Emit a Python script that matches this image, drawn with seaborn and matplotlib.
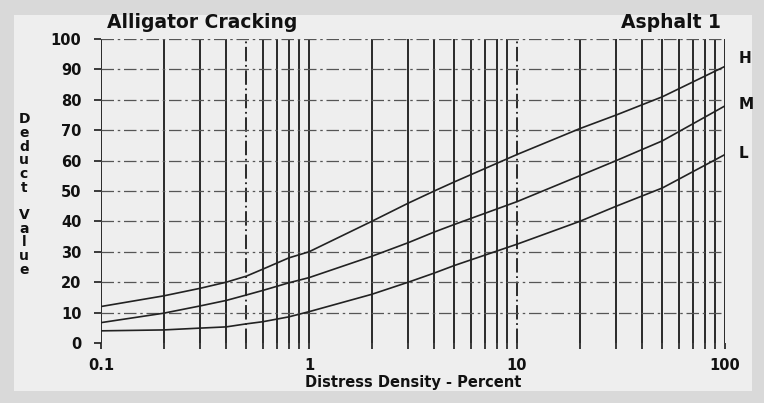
import numpy as np
import pandas as pd
import seaborn as sns
from matplotlib import pyplot as plt
from matplotlib.patches import Rectangle

# distress density (percent) where the curves were read
density = [0.1, 0.2, 0.3, 0.4, 0.5, 0.6, 0.8, 1, 2, 3, 4, 5, 10, 20, 30, 50, 100]
# deduct values for each severity
dv_high = [12, 15.5, 18, 20, 22, 24.3, 28, 30, 40, 46, 50, 53, 62, 70.5, 75, 81, 91]
dv_med = [6.7, 9.8, 12.2, 14, 15.8, 17.3, 19.8, 21.5, 28.5, 33, 36.5, 39, 46.5, 55, 60, 66.5, 78]
dv_low = [4, 4.3, 4.9, 5.3, 6.3, 7, 8.6, 10.3, 16, 20, 23, 25.5, 32.5, 40, 45, 51, 62]
severities = ["H", "M", "L"]
y_ticks = [0, 10, 20, 30, 40, 50, 60, 70, 80, 90, 100]
x_ticks = [0.1, 1, 10, 100]
x_ticklabels = ["0.1", "1", "10", "100"]

df = pd.DataFrame({
    "density": density * 3,
    "value": dv_high + dv_med + dv_low,
    "severity": np.repeat(severities, len(density)),
})

sns.set_style("white")
plt.rcParams["font.family"] = ["DejaVu Sans"]
plt.rcParams["font.weight"] = "bold"
ink = "#111111"

fig = plt.figure(figsize=(7.64, 4.03), dpi=100, facecolor="#d9d9d9")
# paper sheet
fig.patches.append(Rectangle((14 / 764, 12 / 403), 738 / 764, 376 / 403,
                             transform=fig.transFigure, facecolor="#eeeeee",
                             edgecolor="none", zorder=-10))
ax = fig.add_axes([101 / 764, 1 - 343 / 403, 624 / 764, 304 / 403])
ax.set_facecolor("#eeeeee")

ax.set_xscale("log")
ax.set_xlim(0.1, 100)
ax.set_ylim(0, 100)

# vertical log grid
minor_x = []
for dec in [0.1, 1, 10]:
    for k in range(1, 10):
        x = dec * k
        if k > 1:
            minor_x.append(x)
        dashed = (k == 5 and dec == 0.1) or (k == 1 and dec == 10)
        ls = (0, (8, 2, 1, 2)) if dashed else "-"
        ax.axvline(x, color="#1a1a1a", lw=1.3, ls=ls, zorder=1)
ax.axvline(100, color="#1a1a1a", lw=1.3, zorder=1)
# horizontal grid
for y in y_ticks[1:]:
    ax.axhline(y, color="#555555", lw=0.9, ls=(0, (10, 3, 2, 3)), zorder=1)

sns.lineplot(data=df, x="density", y="value", hue="severity",
             palette=["#222222"] * 3, legend=False, lw=1.2, ax=ax, zorder=3)

for s in ax.spines.values():
    s.set_visible(False)

ax.set_yticks(y_ticks)
ax.set_xticks(x_ticks)
ax.set_xticklabels(x_ticklabels)
ax.set_xticks(minor_x, minor=True)
ax.set_xticklabels([], minor=True)
ax.tick_params(axis="both", which="both", length=4, width=1.2, color="#1a1a1a",
               labelsize=10.5, labelcolor=ink, pad=3, bottom=True, left=True)
ax.tick_params(axis="y", which="minor", left=False)
ax.tick_params(axis="y", which="major", length=5, pad=9)
ax.tick_params(axis="x", which="major", pad=7)
ax.set_xlabel("Distress Density - Percent", fontsize=10.5, fontweight="bold",
              labelpad=1, color=ink)
ax.set_ylabel("")

for sev, yl in zip(severities, [93.5, 78.5, 62.5]):
    ax.text(1.022, yl, sev, transform=ax.get_yaxis_transform(), fontsize=11,
            fontweight="bold", va="center", ha="left", color=ink)

fig.text(107 / 764, 1 - 22 / 403, "Alligator Cracking", fontsize=13.5,
         fontweight="bold", va="center", ha="left", color=ink)
fig.text(721 / 764, 1 - 23 / 403, "Asphalt 1", fontsize=13.5,
         fontweight="bold", va="center", ha="right", color=ink)
fig.text(24 / 764, 1 - 194.5 / 403, "D\ne\nd\nu\nc\nt\n\nV\na\nl\nu\ne",
         fontsize=10, fontweight="bold", va="center", ha="center",
         linespacing=0.97, color=ink)

fig.savefig("out.png", dpi=100, facecolor=fig.get_facecolor())
